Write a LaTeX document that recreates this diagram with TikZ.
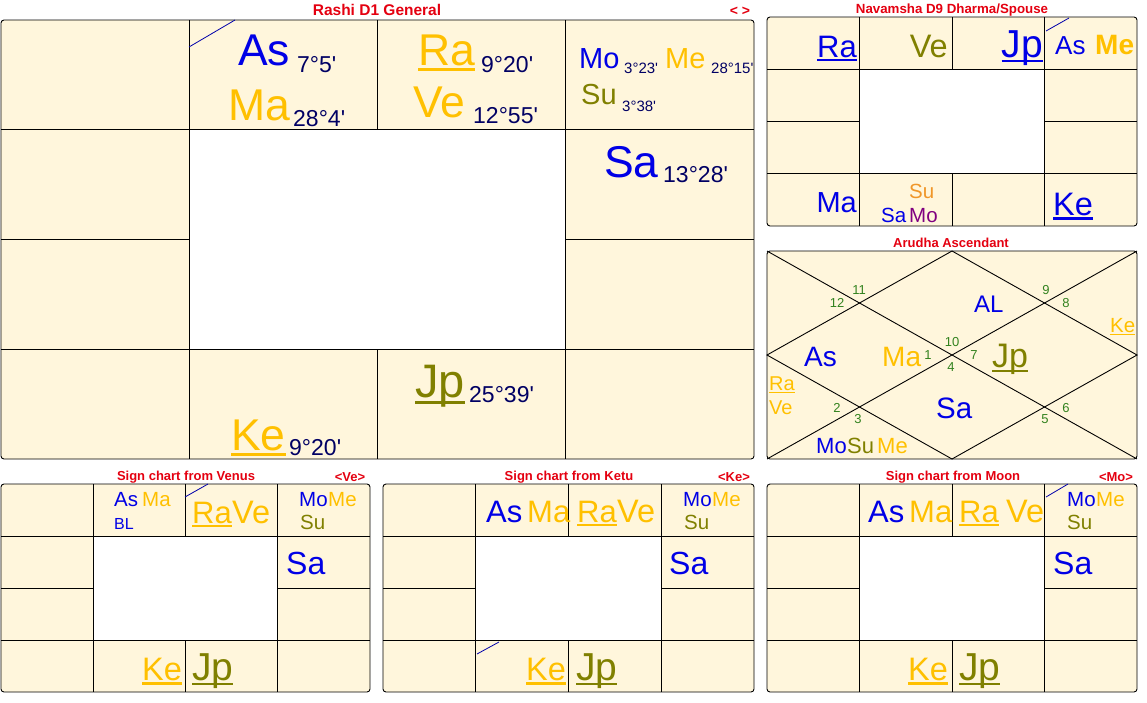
\documentclass[tikz,border=0pt]{standalone}
\usepackage{fontspec}
\setmainfont{Liberation Sans}
\usetikzlibrary{positioning}
\definecolor{ChartFill}{RGB}{255,246,220}
\definecolor{PlBlue}{RGB}{0,0,230}
\definecolor{PlGold}{RGB}{255,192,0}
\definecolor{PlOlive}{RGB}{128,128,0}
\definecolor{DegNavy}{RGB}{0,0,100}
\definecolor{TitleRed}{RGB}{228,0,16}
\definecolor{NumGreen}{RGB}{50,130,30}
\definecolor{SuOrange}{RGB}{240,150,40}
\definecolor{MoPurple}{RGB}{128,0,128}
\definecolor{LagnaBlue}{RGB}{0,0,170}
\newcommand{\fs}[1]{\fontsize{#1}{#1}\selectfont}
\newcommand{\ulpl}[1]{\setbox0=\hbox{#1}\rlap{\rule[-0.14em]{\wd0}{0.065em}}\box0}
\newcommand{\mn}{\textquotesingle}
% south indian chart: top left corner, cell width, cell height
\newcommand{\rasigrid}[4]{%
  \begin{scope}[shift={(#1,#2)}, x=#3pt, y=-#4pt]
    \draw[chartline, fill=ChartFill, rounded corners=3pt] (0,0) rectangle (4,4);
    \fill[white] (1,1) rectangle (3,3);
    \draw[chartline] (0,1) -- (4,1) (0,3) -- (4,3) (1,0) -- (1,4) (3,0) -- (3,4);
    \draw[chartline] (0,2) -- (1,2) (3,2) -- (4,2) (2,0) -- (2,1) (2,3) -- (2,4);
  \end{scope}}
\tikzset{
  chartline/.style={black, line width=0.9pt},
  lagna/.style={LagnaBlue, line width=0.8pt},
  lbl/.style={inner sep=0pt, anchor=base west},
  lblr/.style={inner sep=0pt, anchor=base east},
  title/.style={inner sep=0pt, anchor=base, text=TitleRed, font=\bfseries\fs{13}},
  plA/.style={font=\fs{44.5}},
  plB/.style={font=\fs{31}},
  plC/.style={font=\fs{29}},
  plD/.style={font=\fs{20.5}},
  plE/.style={font=\fs{32.5}},
  bigjp/.style={font=\fs{39}},
  deg/.style={lbl, text=DegNavy, font=\fs{23}},
  sdeg/.style={lbl, text=DegNavy, font=\fs{15}},
  hnum/.style={inner sep=0pt, text=NumGreen, font=\fs{13}}
}
\begin{document}
\begin{tikzpicture}[x=1pt,y=-1pt]
  \useasboundingbox (0,0) rectangle (1147,702);

  % charts
  \rasigrid{1}{20}{188.25}{109.75}
  \rasigrid{767}{17}{92.5}{52.25}
  \rasigrid{1}{484}{92.25}{52}
  \rasigrid{383}{484}{92.75}{52}
  \rasigrid{767}{484}{92.5}{52}
  \draw[chartline, fill=ChartFill, rounded corners=3pt] (767,251) rectangle (1137,459);
  \draw[chartline] (767,251) -- (1137,459) (767,459) -- (1137,251);
  \draw[chartline] (952,251) -- (1137,355) -- (952,459) -- (767,355) -- cycle;

  % ascendant marks
  \draw[lagna] (189,47) -- (235,20);
  \draw[lagna] (1046,31) -- (1069,18);
  \draw[lagna] (185,497) -- (208,484);
  \draw[lagna] (477,654) -- (499,642);
  \draw[lagna] (1046,497) -- (1068,484);

  % titles
  \node[title, font=\bfseries\fs{15.5}] (t1) at (377,15) {Rashi D1 General};
  \node[title, font=\bfseries\fs{14}] (t1n) at (740,15) {< >};
  \node[title, font=\bfseries\fs{13.3}] (t9) at (952,13) {Navamsha D9 Dharma/Spouse};
  \node[title] (tal) at (951,247) {Arudha Ascendant};
  \node[title] (tve) at (186,480) {Sign chart from Venus};
  \node[title] (tven) at (350,481) {<Ve>};
  \node[title] (tke) at (569,480) {Sign chart from Ketu};
  \node[title] (tken) at (734,481) {<Ke>};
  \node[title] (tmo) at (953,480) {Sign chart from Moon};
  \node[title] (tmon) at (1116,481) {<Mo>};

  % rashi d1
  \node[lbl, plA, text=PlBlue] (d1as) at (238,65) {As};
  \node[deg] (d1asd) at (297,72) {7°5\mn};
  \node[lbl, plA, text=PlGold] (d1ma) at (228,120) {Ma};
  \node[deg] (d1mad) at (293,126) {28°4\mn};
  \node[lbl, plA, text=PlGold] (d1ra) at (418,65) {\ulpl{Ra}};
  \node[deg] (d1rad) at (481,72) {9°20\mn};
  \node[lbl, plA, text=PlGold] (d1ve) at (413,117) {Ve};
  \node[deg] (d1ved) at (473,123) {12°55\mn};
  \node[lbl, plC, text=PlBlue] (d1mo) at (579,68) {Mo};
  \node[sdeg] (d1mod) at (624,73) {3°23\mn};
  \node[lbl, plC, text=PlGold] (d1me) at (665,68) {Me};
  \node[sdeg] (d1med) at (711,73) {28°15\mn};
  \node[lbl, plC, text=PlOlive] (d1su) at (581,104) {Su};
  \node[sdeg] (d1sud) at (622,111) {3°38\mn};
  \node[lbl, plA, text=PlBlue] (d1sa) at (604,177) {Sa};
  \node[deg] (d1sad) at (663,182) {13°28\mn};
  \node[lbl, font=\fs{47}, text=PlOlive] (d1jp) at (415,397) {\ulpl{Jp}};
  \node[deg] (d1jpd) at (469,402) {25°39\mn};
  \node[lbl, plA, text=PlGold] (d1ke) at (231,450) {\ulpl{Ke}};
  \node[deg] (d1ked) at (289,455) {9°20\mn};

  % navamsha d9
  \node[lblr, plB, text=PlBlue] (d9ra) at (857,57) {\ulpl{Ra}};
  \node[lblr, plE, text=PlOlive] (d9ve) at (948,57) {Ve};
  \node[lblr, bigjp, text=PlBlue] (d9jp) at (1043,57) {\ulpl{Jp}};
  \node[lbl, font=\fs{26}, text=PlBlue] (d9as) at (1055,54) {As};
  \node[lbl, font=\bfseries\fs{28}, text=PlGold] (d9me) at (1095,54) {Me};
  \node[lblr, plC, text=PlBlue] (d9ma) at (857,212) {Ma};
  \node[lbl, plD, text=SuOrange] (d9su) at (909,198) {Su};
  \node[lbl, plD, text=PlBlue] (d9sa) at (881,222) {Sa};
  \node[lbl, plD, text=MoPurple] (d9mo) at (909,222) {Mo};
  \node[lbl, plE, text=PlBlue] (d9ke) at (1053,215) {\ulpl{Ke}};

  % arudha ascendant
  \foreach \n/\x/\y in {11/859/290, 12/837/303, 9/1046/290, 8/1066/303,
      10/952/342, 1/928/355, 7/974/355, 4/951/367,
      2/837/408, 3/858/419, 5/1045/419, 6/1066/408}
    \node[hnum] (h\n) at (\x,\y) {\n};
  \node[lbl, font=\fs{24}, text=PlBlue] (alal) at (974,312) {AL};
  \node[lbl, font=\fs{28}, text=PlBlue] (alas) at (804,366) {As};
  \node[lbl, font=\fs{28}, text=PlGold] (alma) at (882,366) {Ma};
  \node[lbl, font=\fs{34}, text=PlOlive] (aljp) at (992,367) {\ulpl{Jp}};
  \node[lbl, font=\fs{29.5}, text=PlBlue] (alsa) at (936,418) {Sa};
  \node[lbl, font=\fs{20.5}, text=PlGold] (alke) at (1110,332) {\ulpl{Ke}};
  \node[lbl, font=\fs{20}, text=PlGold] (alra) at (769,390) {\ulpl{Ra}};
  \node[lbl, font=\fs{20}, text=PlGold] (alve) at (769,414) {Ve};
  \node[lbl, font=\fs{22}, text=PlBlue] (almo) at (816,453) {Mo};
  \node[lbl, font=\fs{22}, text=PlOlive] (alsu) at (847,453) {Su};
  \node[lbl, font=\fs{22}, text=PlGold] (alme) at (877,453) {Me};

  % sign chart from venus
  \node[lbl, plD, text=PlBlue] (veas) at (114,506) {As};
  \node[lbl, plD, text=PlGold] (vema) at (142,506) {Ma};
  \node[lbl, font=\fs{16}, text=PlBlue] (vebl) at (114,529) {BL};
  \node[lbl, plB, text=PlGold] (vera) at (192,523) {\ulpl{Ra}};
  \node[lbl, plE, text=PlGold] (veve) at (232,523) {Ve};
  \node[lbl, plD, text=PlBlue] (vemo) at (299,506) {Mo};
  \node[lbl, plD, text=PlGold] (veme) at (328,506) {Me};
  \node[lbl, plD, text=PlOlive] (vesu) at (300,529) {Su};
  \node[lbl, font=\fs{32}, text=PlBlue] (vesa) at (286,574) {Sa};
  \node[lbl, plE, text=PlGold] (veke) at (142,680) {\ulpl{Ke}};
  \node[lbl, bigjp, text=PlOlive] (vejp) at (192,680) {\ulpl{Jp}};

  % sign chart from ketu
  \node[lbl, plB, text=PlBlue] (keas) at (486,522) {As};
  \node[lbl, plB, text=PlGold] (kema) at (527,522) {Ma};
  \node[lbl, plB, text=PlGold] (kera) at (577,522) {\ulpl{Ra}};
  \node[lbl, plE, text=PlGold] (keve) at (617,522) {Ve};
  \node[lbl, plD, text=PlBlue] (kemo) at (683,506) {Mo};
  \node[lbl, plD, text=PlGold] (keme) at (712,506) {Me};
  \node[lbl, plD, text=PlOlive] (kesu) at (684,529) {Su};
  \node[lbl, font=\fs{32}, text=PlBlue] (kesa) at (669,574) {Sa};
  \node[lbl, plE, text=PlGold] (keke) at (526,680) {\ulpl{Ke}};
  \node[lbl, bigjp, text=PlOlive] (kejp) at (576,680) {\ulpl{Jp}};

  % sign chart from moon
  \node[lbl, plB, text=PlBlue] (moas) at (868,522) {As};
  \node[lbl, plB, text=PlGold] (moma) at (909,522) {Ma};
  \node[lbl, plB, text=PlGold] (mora) at (959,522) {\ulpl{Ra}};
  \node[lbl, plE, text=PlGold] (move) at (1006,522) {Ve};
  \node[lbl, plD, text=PlBlue] (momo) at (1067,506) {Mo};
  \node[lbl, plD, text=PlGold] (mome) at (1096,506) {Me};
  \node[lbl, plD, text=PlOlive] (mosu) at (1067,529) {Su};
  \node[lbl, font=\fs{32}, text=PlBlue] (mosa) at (1053,574) {Sa};
  \node[lbl, plE, text=PlGold] (moke) at (908,680) {\ulpl{Ke}};
  \node[lbl, bigjp, text=PlOlive] (mojp) at (959,680) {\ulpl{Jp}};
\end{tikzpicture}
\end{document}
